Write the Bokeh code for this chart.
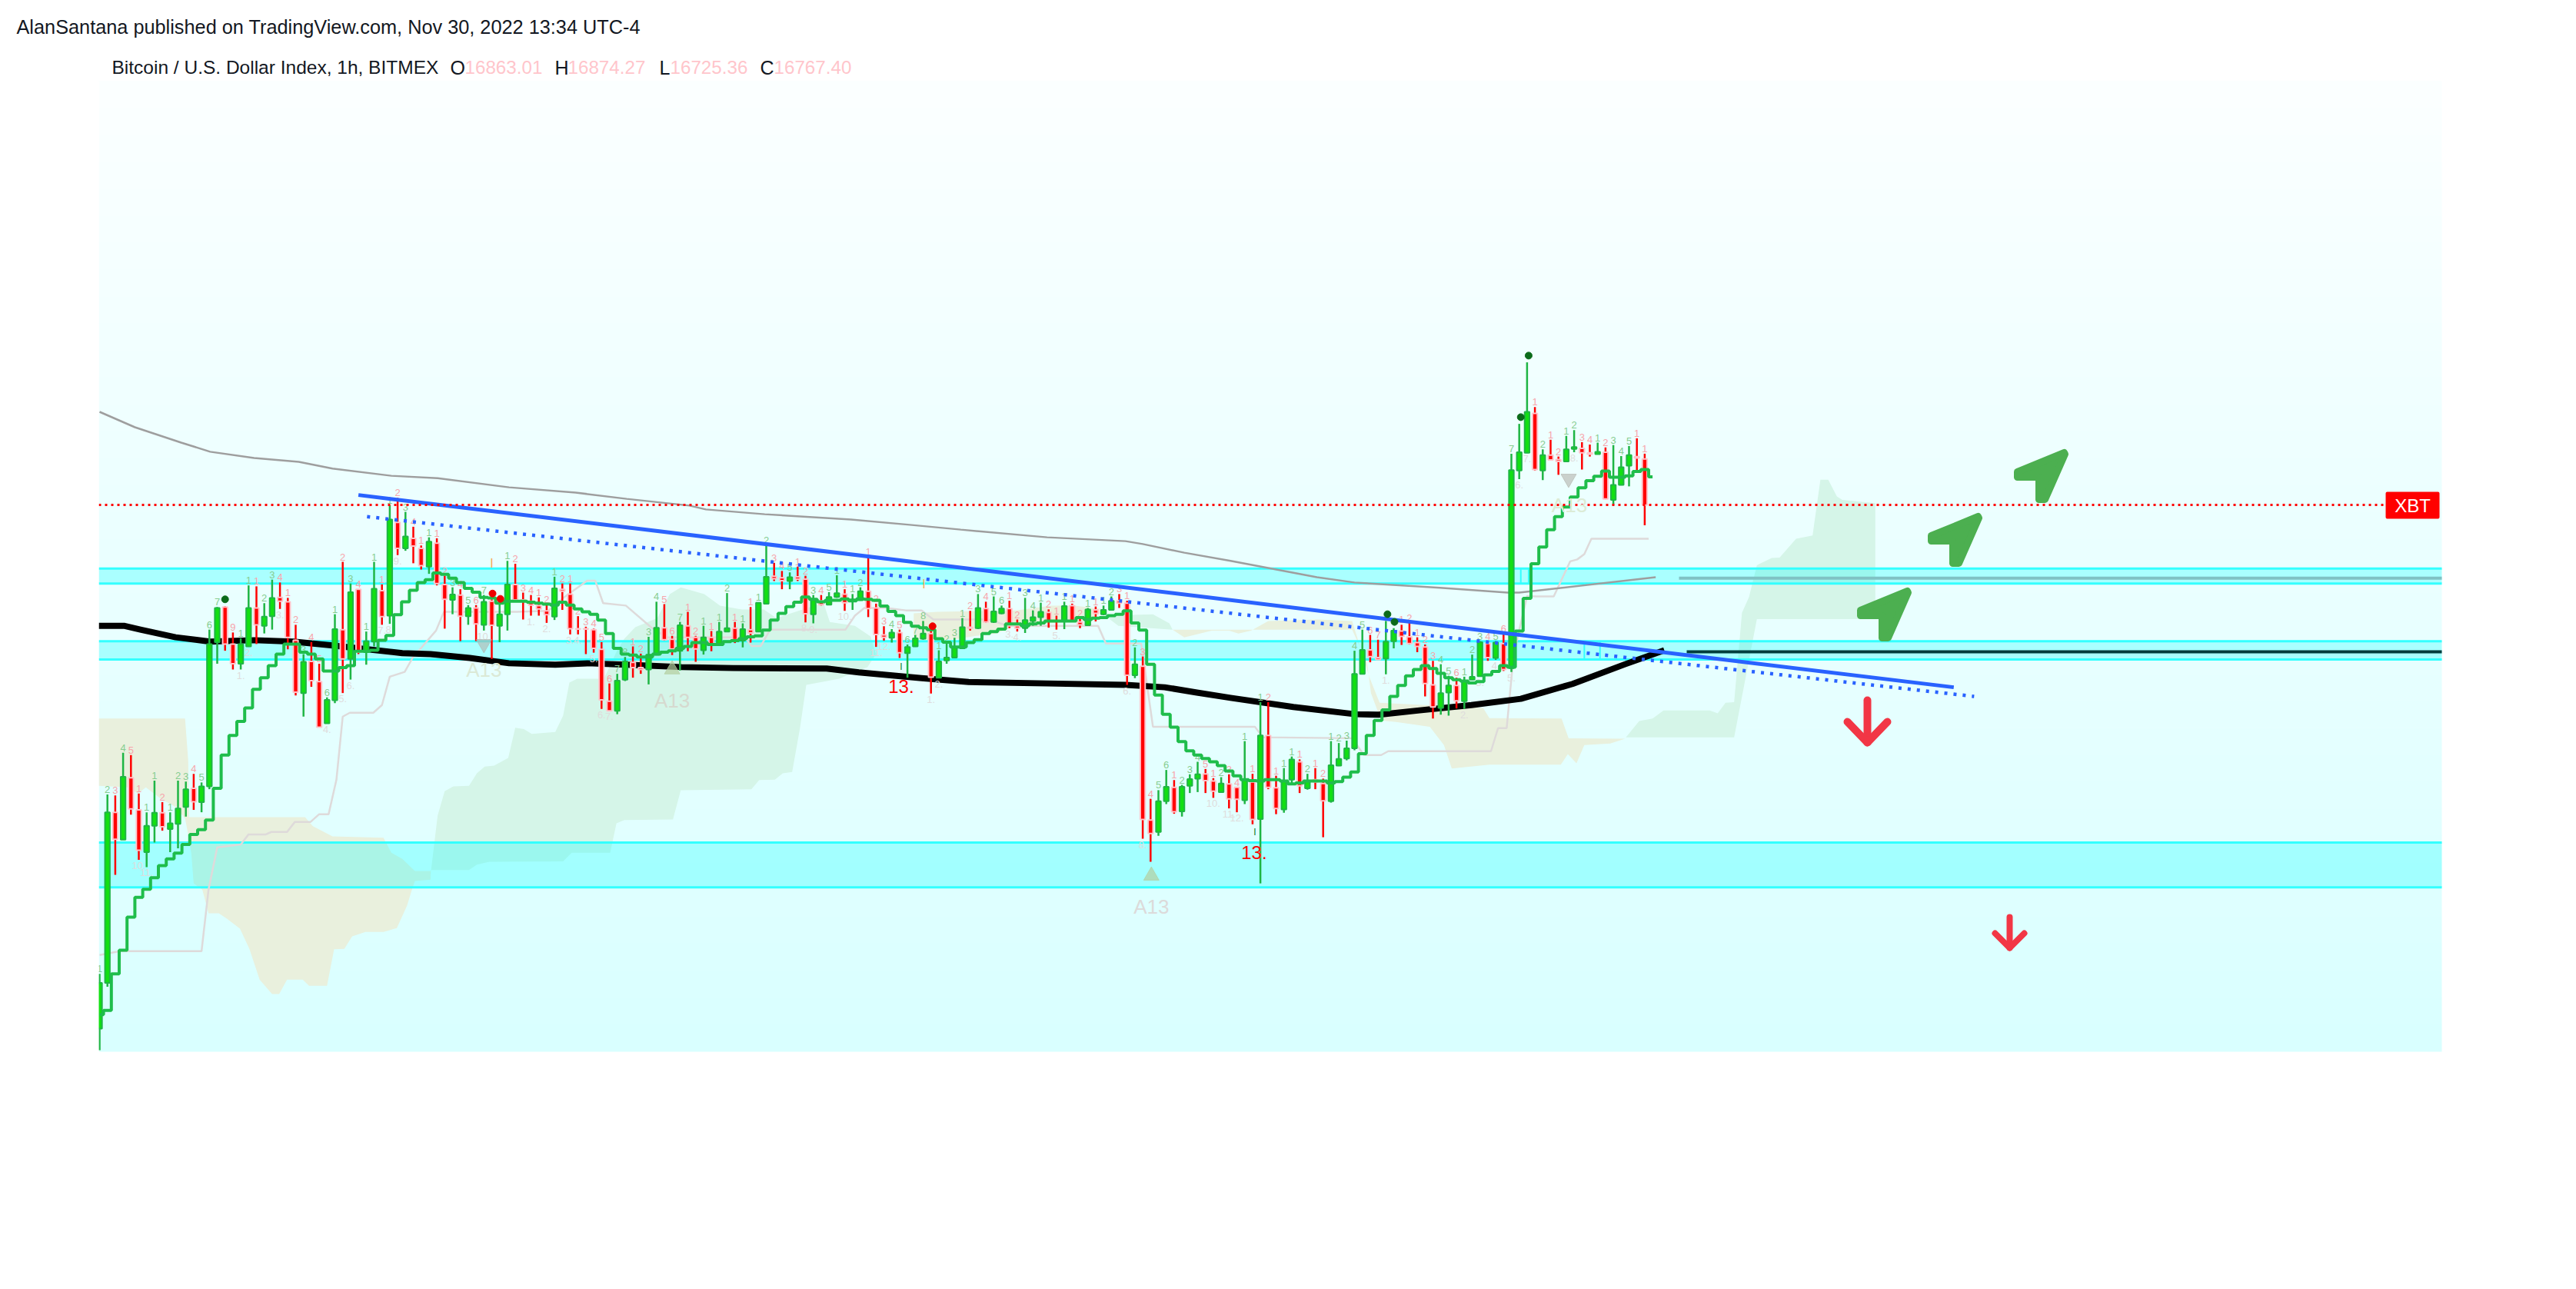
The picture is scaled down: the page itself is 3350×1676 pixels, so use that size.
from bokeh.core.properties import value
from bokeh.embed import file_html
from bokeh.models import ColumnDataSource, Range1d
from bokeh.plotting import figure
from bokeh.resources import INLINE

# candles (1h bars)
opens = [
    15678, 15773, 16128, 16071, 16200, 16133, 16045, 16100, 16127, 16093,
    16104, 16139, 16178, 16149, 16182, 16482, 16555, 16478, 16437, 16473,
    16553, 16516, 16536, 16575, 16566, 16486, 16376, 16442, 16400, 16313,
    16361, 16508, 16447, 16592, 16461, 16483, 16589, 16537, 16731, 16677,
    16698, 16677, 16639, 16688, 16602, 16570, 16580, 16536, 16553, 16518,
    16567, 16516, 16540, 16602, 16570, 16567, 16558, 16547, 16535, 16592,
    16582, 16510, 16510, 16508, 16467, 16359, 16339, 16404, 16440, 16429,
    16425, 16456, 16512, 16488, 16464, 16516, 16492, 16465, 16492, 16477,
    16504, 16511, 16485, 16508, 16504, 16562, 16619, 16616, 16609, 16618,
    16613, 16540, 16568, 16560, 16576, 16582, 16568, 16569, 16588, 16553,
    16497, 16491, 16502, 16459, 16473, 16489, 16500, 16408, 16444, 16450,
    16469, 16513, 16511, 16552, 16524, 16542, 16552, 16516, 16511, 16526,
    16534, 16544, 16526, 16526, 16558, 16524, 16517, 16549, 16540, 16549,
    16568, 16563, 16413, 16432, 16112, 16087, 16151, 16180, 16130, 16183,
    16198, 16208, 16193, 16170, 16187, 16180, 16153, 16191, 16114, 16288,
    16179, 16134, 16196, 16233, 16178, 16196, 16188, 16151, 16225, 16240,
    16261, 16416, 16466, 16450, 16448, 16484, 16505, 16493, 16481, 16472,
    16393, 16345, 16377, 16392, 16359, 16404, 16411, 16479, 16449, 16479,
    16428, 16839, 16876, 16958, 16839, 16871, 16862, 16858, 16884, 16885,
    16876, 16873, 16877, 16778, 16809, 16849, 16868, 16863,
]
highs = [
    15792, 16165, 16163, 16252, 16247, 16167, 16128, 16194, 16149, 16128,
    16194, 16192, 16208, 16190, 16508, 16555, 16557, 16502, 16490, 16600,
    16598, 16563, 16612, 16606, 16574, 16518, 16457, 16482, 16437, 16367,
    16540, 16649, 16604, 16592, 16504, 16649, 16602, 16767, 16782, 16753,
    16722, 16683, 16700, 16698, 16620, 16596, 16592, 16559, 16559, 16580,
    16571, 16567, 16651, 16645, 16585, 16580, 16575, 16561, 16618, 16604,
    16604, 16536, 16514, 16510, 16482, 16396, 16416, 16451, 16473, 16458,
    16493, 16566, 16561, 16495, 16524, 16545, 16495, 16516, 16505, 16524,
    16584, 16524, 16521, 16555, 16565, 16684, 16647, 16630, 16627, 16639,
    16620, 16580, 16580, 16586, 16621, 16592, 16582, 16596, 16660, 16562,
    16515, 16509, 16508, 16477, 16497, 16526, 16512, 16465, 16479, 16491,
    16532, 16547, 16582, 16566, 16577, 16558, 16568, 16529, 16574, 16548,
    16564, 16550, 16537, 16566, 16562, 16532, 16553, 16556, 16558, 16577,
    16582, 16568, 16471, 16452, 16156, 16174, 16216, 16195, 16185, 16207,
    16233, 16218, 16199, 16201, 16207, 16180, 16276, 16208, 16357, 16357,
    16204, 16220, 16244, 16238, 16208, 16220, 16198, 16276, 16272, 16277,
    16464, 16508, 16497, 16487, 16526, 16511, 16518, 16522, 16492, 16477,
    16443, 16436, 16412, 16408, 16410, 16456, 16484, 16484, 16484, 16499,
    16874, 16936, 17064, 16971, 16883, 16903, 16868, 16911, 16923, 16898,
    16893, 16897, 16887, 16892, 16869, 16890, 16906, 16874,
]
lows = [
    15633, 15765, 15998, 16071, 16123, 16029, 16014, 16065, 16090, 16045,
    16053, 16119, 16133, 16128, 16176, 16437, 16464, 16425, 16425, 16472,
    16478, 16500, 16508, 16551, 16467, 16371, 16327, 16389, 16305, 16313,
    16355, 16376, 16404, 16457, 16435, 16473, 16518, 16520, 16663, 16672,
    16646, 16633, 16624, 16600, 16510, 16540, 16484, 16518, 16484, 16506,
    16447, 16482, 16506, 16567, 16529, 16537, 16537, 16522, 16528, 16549,
    16498, 16498, 16457, 16460, 16343, 16339, 16332, 16401, 16408, 16416,
    16394, 16456, 16485, 16455, 16423, 16463, 16441, 16456, 16463, 16476,
    16503, 16480, 16471, 16481, 16503, 16561, 16609, 16592, 16592, 16609,
    16523, 16521, 16558, 16560, 16574, 16547, 16549, 16568, 16534, 16472,
    16485, 16481, 16449, 16408, 16472, 16487, 16375, 16407, 16437, 16449,
    16469, 16506, 16509, 16522, 16522, 16540, 16511, 16504, 16501, 16516,
    16516, 16512, 16508, 16509, 16524, 16511, 16517, 16525, 16538, 16549,
    16553, 16393, 16407, 16073, 16025, 16079, 16145, 16125, 16119, 16168,
    16170, 16168, 16158, 16169, 16136, 16128, 16145, 16103, 15980, 16176,
    16124, 16127, 16188, 16168, 16175, 16176, 16076, 16148, 16224, 16236,
    16257, 16415, 16440, 16445, 16415, 16469, 16476, 16477, 16461, 16369,
    16323, 16331, 16329, 16344, 16343, 16403, 16410, 16443, 16445, 16422,
    16420, 16821, 16875, 16839, 16819, 16860, 16830, 16857, 16877, 16841,
    16868, 16873, 16779, 16768, 16808, 16806, 16839, 16725,
]
closes = [
    15773, 16128, 16072, 16202, 16135, 16049, 16100, 16127, 16098, 16105,
    16136, 16176, 16150, 16182, 16478, 16553, 16478, 16437, 16478, 16553,
    16518, 16535, 16574, 16567, 16492, 16378, 16441, 16402, 16305, 16362,
    16509, 16447, 16586, 16461, 16484, 16593, 16535, 16737, 16677, 16702,
    16682, 16641, 16691, 16604, 16571, 16581, 16536, 16553, 16520, 16566,
    16517, 16540, 16602, 16570, 16567, 16559, 16551, 16539, 16594, 16588,
    16510, 16509, 16509, 16469, 16362, 16339, 16402, 16442, 16429, 16425,
    16456, 16512, 16487, 16468, 16517, 16492, 16468, 16492, 16476, 16504,
    16511, 16487, 16509, 16501, 16564, 16618, 16614, 16610, 16617, 16613,
    16541, 16572, 16560, 16576, 16584, 16564, 16571, 16588, 16552, 16498,
    16492, 16502, 16460, 16472, 16490, 16500, 16409, 16442, 16450, 16471,
    16513, 16511, 16553, 16524, 16546, 16552, 16516, 16511, 16528, 16534,
    16545, 16526, 16525, 16557, 16525, 16518, 16550, 16542, 16549, 16568,
    16563, 16413, 16436, 16113, 16084, 16151, 16181, 16129, 16181, 16197,
    16207, 16194, 16172, 16188, 16156, 16155, 16196, 16113, 16288, 16180,
    16136, 16193, 16238, 16183, 16194, 16191, 16152, 16226, 16239, 16261,
    16416, 16466, 16452, 16446, 16483, 16506, 16494, 16479, 16473, 16396,
    16347, 16376, 16392, 16360, 16402, 16410, 16482, 16450, 16481, 16425,
    16840, 16877, 16961, 16841, 16871, 16861, 16858, 16883, 16888, 16876,
    16873, 16878, 16780, 16809, 16846, 16871, 16865, 16767,
]

# stepped green line, one value per bar plus one
step_prices = [
    15707, 15716, 15792, 15841, 15910, 15951, 15968, 15992, 16017, 16031,
    16043, 16061, 16082, 16092, 16112, 16178, 16247, 16288, 16317, 16345,
    16384, 16408, 16433, 16457, 16478, 16478, 16461, 16457, 16447, 16422,
    16422, 16429, 16433, 16463, 16463, 16465, 16486, 16496, 16539, 16566,
    16590, 16606, 16612, 16626, 16623, 16615, 16606, 16594, 16586, 16575,
    16574, 16563, 16567, 16567, 16567, 16565, 16563, 16561, 16559, 16565,
    16559, 16551, 16545, 16540, 16528, 16500, 16469, 16457, 16455, 16451,
    16451, 16457, 16461, 16464, 16469, 16473, 16481, 16481, 16477, 16477,
    16483, 16485, 16489, 16493, 16495, 16507, 16528, 16542, 16556, 16565,
    16576, 16571, 16566, 16569, 16569, 16572, 16568, 16572, 16571, 16569,
    16557, 16546, 16537, 16523, 16515, 16512, 16508, 16489, 16482, 16472,
    16472, 16481, 16487, 16500, 16504, 16509, 16520, 16520, 16516, 16520,
    16522, 16526, 16526, 16526, 16526, 16533, 16529, 16532, 16533, 16537,
    16540, 16547, 16522, 16507, 16436, 16372, 16332, 16305, 16275, 16256,
    16247, 16240, 16233, 16225, 16214, 16204, 16196, 16194, 16193, 16196,
    16196, 16193, 16187, 16189, 16193, 16193, 16193, 16189, 16192, 16201,
    16212, 16250, 16288, 16319, 16341, 16369, 16392, 16412, 16425, 16433,
    16427, 16417, 16408, 16404, 16401, 16397, 16400, 16414, 16421, 16433,
    16430, 16505, 16573, 16645, 16680, 16716, 16743, 16763, 16784, 16803,
    16818, 16827, 16838, 16825, 16825, 16828, 16837, 16841, 16826,
]

# smooth averages and the thin lagging line
ma_grey_bars = [0, 4.5, 10.4, 14.1, 19.7, 25.4, 29.7, 37.2, 43.1, 52.2, 60.7, 67.2, 75.2, 77.3, 84.8, 95.8, 103.3, 109.8, 120.8, 130.8, 133, 138.3, 144.2, 155.2, 160, 170.9, 179.5, 181, 198.4]
ma_grey_prices = [16961, 16929, 16897, 16878, 16865, 16857, 16843, 16828, 16823, 16804, 16793, 16780, 16766, 16758, 16748, 16737, 16726, 16716, 16700, 16692, 16686, 16668, 16651, 16617, 16606, 16595, 16585, 16585, 16617]
ma_black_bars = [-0.1, 3.1, 5.2, 9.7, 14.1, 19.7, 24.7, 29.7, 34.2, 38.6, 42.2, 47.2, 52.2, 58.1, 62.2, 67.2, 74.2, 80.8, 92.7, 96.8, 104.8, 110.8, 120.8, 130.8, 135.8, 139.9, 144.2, 152.2, 160.1, 163.1, 168.3, 174.9, 181.2, 187.8, 194.5, 199.5]
ma_black_prices = [16516, 16516, 16508, 16492, 16483, 16486, 16483, 16475, 16467, 16459, 16457, 16449, 16438, 16435, 16438, 16435, 16430, 16428, 16427, 16419, 16407, 16399, 16396, 16393, 16388, 16377, 16366, 16347, 16332, 16331, 16340, 16351, 16364, 16395, 16436, 16465]
lag_bars = [0, 2.6, 13, 13.9, 15, 18, 19, 21.2, 21.9, 23.9, 24.9, 26.9, 28, 29.2, 30.2, 31, 31.9, 34.9, 36, 37, 38.9, 39.9, 42.9, 43.9, 53.2, 57.2, 59.2, 62.2, 63.2, 64.2, 67.1, 70.3, 72.3, 80.7, 82.3, 83.1, 84.3, 85.5, 95.1, 96.3, 97.5, 100.3, 102.8, 104.8, 106.3, 113.3, 115.8, 127.3, 128.3, 132.8, 134.3, 147.3, 148.3, 159.7, 161.2, 163.4, 164.3, 177.4, 178.3, 179.4, 180.3, 182, 183.2, 185.4, 187.5, 188.4, 189.3, 190.2, 197.5]
lag_prices = [15831, 15839, 15839, 15968, 16055, 16061, 16082, 16082, 16087, 16087, 16108, 16108, 16124, 16124, 16196, 16327, 16335, 16335, 16351, 16410, 16420, 16449, 16506, 16545, 16545, 16547, 16575, 16610, 16610, 16563, 16558, 16513, 16492, 16492, 16492, 16474, 16474, 16508, 16508, 16537, 16553, 16553, 16548, 16548, 16529, 16529, 16516, 16516, 16479, 16479, 16306, 16306, 16284, 16282, 16247, 16247, 16255, 16255, 16303, 16303, 16457, 16578, 16577, 16577, 16650, 16654, 16665, 16697, 16697]

# cloud outlines
beige_a_bars = [-0.1, 10.9, 11.3, 11.4, 14.7, 26.2, 27.2, 29.7, 36.2, 37.2, 38.6, 40.2, 42.2, 42.2, 40.2, 39.9, 39.2, 37.9, 36.2, 33.9, 32.2, 31.2, 29.9, 29, 26.7, 25.9, 23.9, 22.9, 22, 20.4, 19.1, 17.9, 16.2, 15.2, 13.9, 13.1, 12, 11.7, 11.4, 10.9, 9.7, 7.9, 5.9, 4.9, 3.6, -0.1]
beige_a_prices = [16323, 16323, 16236, 16118, 16118, 16118, 16099, 16078, 16075, 16044, 16031, 16006, 16006, 15988, 15985, 15971, 15934, 15887, 15879, 15879, 15870, 15844, 15843, 15767, 15767, 15780, 15780, 15750, 15750, 15780, 15844, 15886, 15907, 15918, 15918, 15967, 15980, 16041, 16073, 16115, 16139, 16155, 16180, 16167, 16180, 16183]
green_a_bars = [42.1, 43.1, 44, 45.1, 47.1, 48.1, 49.1, 50.3, 52.1, 53, 54.1, 55.1, 58.1, 59.1, 59.9, 60.9, 64.3, 65.9, 66.9, 68.3, 71.1, 72.7, 74.1, 77.1, 79.1, 81.9, 84.7, 86.3, 92.3, 93.1, 96.3, 98.3, 99, 97.9, 96.3, 94.3, 90.1, 89.3, 88.3, 87.1, 86.1, 84.1, 83.1, 74.1, 73.1, 66.9, 65.9, 65.1, 60.2, 59.1, 49.7, 48.1, 47.1, 42.3]
green_a_prices = [15985, 16121, 16172, 16182, 16183, 16209, 16223, 16225, 16241, 16304, 16301, 16291, 16295, 16329, 16398, 16406, 16406, 16462, 16489, 16513, 16532, 16582, 16596, 16582, 16558, 16550, 16550, 16532, 16564, 16524, 16516, 16494, 16457, 16430, 16420, 16406, 16393, 16303, 16212, 16209, 16196, 16195, 16176, 16174, 16113, 16112, 16105, 16044, 16044, 16026, 16025, 16019, 16008, 16008]
beige_b_bars = [103.8, 106.8, 116.8, 121.3, 124.3, 128.3, 126.3, 116.8, 114.3, 111.8, 108.6, 103.8]
beige_b_prices = [16542, 16545, 16548, 16558, 16558, 16550, 16527, 16516, 16500, 16495, 16487, 16487]
green_b_bars = [128.2, 134.3, 136.4, 136.8, 129.9]
green_b_prices = [16537, 16540, 16521, 16508, 16516]
beige_c_bars = [136.8, 138.3, 141.8, 144, 145.2, 146.8, 149, 155.3, 159.7, 161.9, 163.2, 176.4, 177.2, 186.4, 187.3, 194.5, 192.6, 189.3, 188.3, 187.2, 186.3, 177.2, 172.4, 171.4, 169.6, 165.3, 163.4, 162.1, 161.6, 159.7, 149]
beige_c_prices = [16508, 16492, 16506, 16506, 16500, 16506, 16526, 16529, 16526, 16409, 16356, 16345, 16324, 16323, 16282, 16281, 16271, 16268, 16230, 16249, 16227, 16227, 16219, 16268, 16306, 16316, 16319, 16376, 16439, 16508, 16508]
green_c_bars = [194.6, 196.3, 198, 199.4, 205.3, 206.3, 207.3, 208.4, 209.4, 210.3, 211.3, 213.2, 214.2, 216.3, 218.4, 219.4, 220.4, 221.5, 222.2, 226.4, 226.4, 211.3, 208.4]
green_c_prices = [16284, 16318, 16323, 16340, 16340, 16334, 16356, 16357, 16543, 16576, 16642, 16657, 16658, 16697, 16704, 16820, 16820, 16785, 16778, 16771, 16530, 16530, 16284]

# support / resistance zones
zone_tops = [16635, 16484, 16065]
zone_bottoms = [16604, 16446, 15972]

# trend lines and the extended averages
trend_solid_bars = [33.0, 236.4]
trend_solid_prices = [16788, 16388]
trend_dotted_bars = [34.1, 239.0]
trend_dotted_prices = [16743, 16369]
last_close = 16767.4
ext_grey_price = 16615
ext_black_price = 16462

# count numbers above the bars, "." where there is none
top_labels = (
    "1 2 3 4 5 1 1 1 2 1 2 3 4 5 6 7 . 9 1 1 1 2 3 4 1 2 3 4 5 6 1 2 3 4 1 1 1 1 2 3 "
    "4 1 1 1 2 3 4 5 6 7 . . 1 2 3 4 1 2 1 2 1 2 3 4 5 6 7 8 1 2 3 4 5 6 7 1 2 1 1 1 "
    "2 1 1 1 1 2 3 4 5 1 2 3 4 5 1 1 1 2 1 2 3 4 5 6 7 8 . 1 2 3 1 2 3 4 5 6 1 2 3 4 "
    "1 2 1 1 1 2 1 1 1 2 3 1 2 3 4 5 6 1 2 3 4 5 1 2 3 4 1 1 1 2 1 1 1 1 2 1 2 1 2 3 "
    "4 5 6 7 . . 1 2 1 2 3 4 5 6 1 2 3 4 5 6 7 . . 1 2 1 2 1 2 3 4 1 2 3 4 5 1 1"
).split()
# faint numbers under some bars
low_label_bars = [5, 6, 18, 19, 23, 29, 31, 32, 36, 37, 38, 49, 55, 57, 60, 61, 63, 64, 65, 90, 91, 95, 99, 100, 106, 107, 116, 117, 122, 131, 133, 142, 144, 145, 164, 174, 176, 178, 180, 181, 182, 188]
low_label_texts = ["10.", "11.", "1.", "2.", "3.", "4.", "5.", "6.", "7.", "8.", "9.", "10.", "1.", "2.", "3.", "4.", "5.", "6.", "7.", "8.", "9.", "10.", "11.", "12.", "1.", "2.", "3.", "4.", "5.", "6.", "8.", "10.", "11.", "12.", "1.", "2.", "3.", "4.", "5.", "6.", "7.", "8."]

# signal marks
green_dot_bars = [16, 164.2, 165.1, 181.2, 182.2]
green_dot_prices = [16571, 16540, 16524, 16950, 17078]
red_dot_bars = [50.1, 51.1, 106.2]
red_dot_prices = [16583, 16572, 16515]
down_mark_bars = [49, 187.3]
down_mark_prices = [16478, 16822]
up_mark_bars = [73, 134.1]
up_mark_prices = [16425, 15996]
a13_bars = [49, 73, 134.1, 187.4]
a13_prices = [16425, 16361, 15932, 16767]
a13_colors = ["#dbe9d6", "#d6d9cf", "#dcdada", "#dcecd6"]
red13_bars = [102.2, 147.2]
red13_prices = [16390, 16044]
orange_i_bars = [50, 105.1]
orange_i_prices = [16646, 16603]
dark_i_bars = [102.2, 147.3]
dark_i_prices = [16431, 16086]
tick_bars = [181.2, 182.2]
tick_low_bars = [189.3, 191.3]

# the picture's scale: 10.2 px per bar, 1.6 dollars per px
PX_PER_BAR = 10.2
DOLLARS_PER_PX = 1.6


def bar_at(px):
    return (px - 129) / PX_PER_BAR


def price_at(py):
    return 17817 - DOLLARS_PER_PX * py


# the figure starts at the page's corner
p = figure(
    width=3334,
    height=1660,
    x_range=Range1d(bar_at(0), bar_at(3334)),
    y_range=Range1d(price_at(1660), price_at(0)),
    x_axis_type=None,
    y_axis_type=None,
    toolbar_location=None,
    output_backend="svg",
    min_border=0,
)
p.grid.visible = False
p.outline_line_color = None
p.background_fill_color = "white"
p.border_fill_color = "white"

FONT = value("Liberation Sans")
left_edge, right_edge = bar_at(128), bar_at(3175)

# background fades from almost white to pale cyan
n_steps = 36
for k in range(n_steps):
    y0 = 105 + k * (1367 - 105) / n_steps
    y1 = 105 + (k + 1) * (1367 - 105) / n_steps
    red = int(252 - 35 * (k + 0.5) / n_steps)
    p.quad(left=left_edge, right=right_edge, top=price_at(y0 - 0.5), bottom=price_at(y1), fill_color=(red, 255, 255), line_color=None)

beige = "#e9f0dd"
green = "#d5f5e8"
p.patch(beige_a_bars, beige_a_prices, fill_color=beige, line_color=None)
p.patch(green_a_bars, green_a_prices, fill_color=green, line_color=None)
p.patch(beige_b_bars, beige_b_prices, fill_color=beige, line_color=None)
p.patch(green_b_bars, green_b_prices, fill_color=green, line_color=None)
p.patch(beige_c_bars, beige_c_prices, fill_color=beige, line_color=None)
p.patch(green_c_bars, green_c_prices, fill_color=green, line_color=None)

for top, bottom in zip(zone_tops, zone_bottoms):
    p.quad(left=left_edge, right=right_edge, top=top, bottom=bottom, fill_color="#00ffff", fill_alpha=0.27, line_color=None)
    p.line([left_edge, right_edge], [top, top], line_color="#33ffff", line_width=3)
    p.line([left_edge, right_edge], [bottom, bottom], line_color="#33ffff", line_width=3)
p.segment(tick_bars, zone_tops[0], tick_bars, zone_bottoms[0], line_color="#33ffff", line_width=2)
p.segment(tick_low_bars, zone_tops[1], tick_low_bars, zone_bottoms[1], line_color="#33ffff", line_width=2)

p.line(lag_bars, lag_prices, line_color="#dedada", line_width=2.5)
p.line(ma_grey_bars, ma_grey_prices, line_color="#9e9e9e", line_width=2.5)
p.line([bar_at(2183), right_edge], [ext_grey_price, ext_grey_price], line_color="#80c2c4", line_width=4)
p.line(ma_black_bars, ma_black_prices, line_color="black", line_width=8, line_join="round")
p.line([bar_at(2193), right_edge], [ext_black_price, ext_black_price], line_color="#003f3f", line_width=4)

# candles
bars = list(range(len(opens)))
is_up = [c >= o for o, c in zip(opens, closes)]
source = ColumnDataSource(dict(
    bar=bars,
    high=highs,
    low=lows,
    top=[max(o, c) for o, c in zip(opens, closes)],
    bottom=[min(o, c) for o, c in zip(opens, closes)],
    wick=["#1fb544" if u else "#ff0000" for u in is_up],
    fill=["#12e012" if u else "#ff0000" for u in is_up],
    edge=["#1fb544" if u else "#ffc3ca" for u in is_up],
    label_color=["#86cd90" if u else "#f7a4ab" for u in is_up],
    label=["" if t == "." else t for t in top_labels],
))
p.segment("bar", "high", "bar", "low", source=source, line_color="wick", line_width=2.5)
p.vbar(x="bar", top="top", bottom="bottom", width=0.62, source=source, fill_color="fill", line_color="edge", line_width=2)

p.text("bar", "high", text="label", source=source, text_color="label_color", text_font=FONT, text_font_size="13px", text_align="center", text_baseline="bottom", y_offset=-2)
low_prices = [lows[b] for b in low_label_bars]
p.text(low_label_bars, low_prices, text=low_label_texts, text_color="#dfdcdc", text_font=FONT, text_font_size="13px", text_align="center", text_baseline="top", y_offset=3)

p.step(list(range(len(step_prices))), step_prices, mode="center", line_color="#1fbd4b", line_width=4)

p.line(trend_solid_bars, trend_solid_prices, line_color="#2962ff", line_width=5)
p.line(trend_dotted_bars, trend_dotted_prices, line_color="#2962ff", line_width=4.5, line_dash="4 8")
p.line([left_edge, bar_at(3102)], [last_close, last_close], line_color="#ff0000", line_width=3, line_dash="3 5")

# the first bar is cut off by the chart's left edge
p.quad(left=bar_at(0), right=left_edge, top=price_at(105), bottom=price_at(1400), fill_color="white", line_color=None)

p.scatter(down_mark_bars, down_mark_prices, marker="inverted_triangle", size=20, fill_color="#b3b3ab", fill_alpha=0.6, line_color="#b3b3ab", line_alpha=0.6)
p.scatter(up_mark_bars, up_mark_prices, marker="triangle", size=20, fill_color="#b4cf9f", fill_alpha=0.7, line_color="#b4cf9f", line_alpha=0.7)
p.text(a13_bars, a13_prices, text=["A13"] * len(a13_bars), text_color=a13_colors, text_font=FONT, text_font_size="26px", text_align="center", text_baseline="middle")
p.text(red13_bars, red13_prices, text=["13."] * len(red13_bars), text_color="#ff0000", text_font=FONT, text_font_size="24px", text_align="center", text_baseline="middle")
p.text(orange_i_bars, orange_i_prices, text=["I"] * len(orange_i_bars), text_color="#f7a95a", text_font=FONT, text_font_size="16px", text_align="center", text_baseline="middle")
p.text(dark_i_bars, dark_i_prices, text=["I"] * len(dark_i_bars), text_color="#0b7a1e", text_font=FONT, text_font_size="12px", text_align="center", text_baseline="middle")
p.scatter(green_dot_bars, green_dot_prices, marker="circle", size=9, fill_color="#0b6b1a", line_color="#0b6b1a", line_width=1)
p.scatter(red_dot_bars, red_dot_prices, marker="circle", size=9, fill_color="#ee0000", line_color="#ee0000", line_width=1)

# green arrows share one outline, in px from the arrow's corner
arrow_dx = [66, 5, 5, 33, 33, 41, 67]
arrow_dy = [4, 29, 36, 36, 65, 65, 6]
for x0, y0 in zip([2618, 2506, 2414], [584, 667, 764]):
    p.patch(
        [bar_at(x0 + dx) for dx in arrow_dx],
        [price_at(y0 + dy) for dy in arrow_dy],
        fill_color="#4caf50",
        line_color="#4caf50",
        line_width=9,
        line_join="round",
    )

# red arrows
p.line([bar_at(2428)] * 2, [price_at(910), price_at(965)], line_color="#f23645", line_width=10, line_cap="round")
p.line([bar_at(2402), bar_at(2428), bar_at(2454)], [price_at(938), price_at(965), price_at(938)], line_color="#f23645", line_width=10, line_cap="round", line_join="round")
p.line([bar_at(2613)] * 2, [price_at(1192), price_at(1232)], line_color="#f23645", line_width=8, line_cap="round")
p.line([bar_at(2594), bar_at(2613), bar_at(2632)], [price_at(1213), price_at(1232), price_at(1213)], line_color="#f23645", line_width=8, line_cap="round", line_join="round")

# last price tag
p.quad(left=bar_at(3104), right=bar_at(3170), top=price_at(641), bottom=price_at(672), fill_color="#ff0000", line_color="#ff0000", line_width=4, line_join="round")
p.text([bar_at(3137)], [price_at(657)], text=["XBT"], text_color="white", text_font=FONT, text_font_size="24px", text_align="center", text_baseline="middle")

# header
ink = "#131722"
pale = "#ffc5cb"
p.text([bar_at(21)], [price_at(34)], text=["AlanSantana published on TradingView.com, Nov 30, 2022 13:34 UTC-4"], text_color=ink, text_font=FONT, text_font_size="25.3px", text_baseline="middle")
p.text([bar_at(145)], [price_at(87)], text=["Bitcoin / U.S. Dollar Index, 1h, BITMEX"], text_color=ink, text_font=FONT, text_font_size="24.5px", text_baseline="middle")
for px, head, px2, number in [(585, "O", 604, "16863.01"), (721, "H", 738, "16874.27"), (857, "L", 871, "16725.36"), (988, "C", 1006, "16767.40")]:
    p.text([bar_at(px)], [price_at(87)], text=[head], text_color=ink, text_font=FONT, text_font_size="25px", text_baseline="middle")
    p.text([bar_at(px2)], [price_at(87)], text=[number], text_color=pale, text_font=FONT, text_font_size="24.2px", text_baseline="middle")

open("out.html", "w").write(file_html(p, INLINE))
